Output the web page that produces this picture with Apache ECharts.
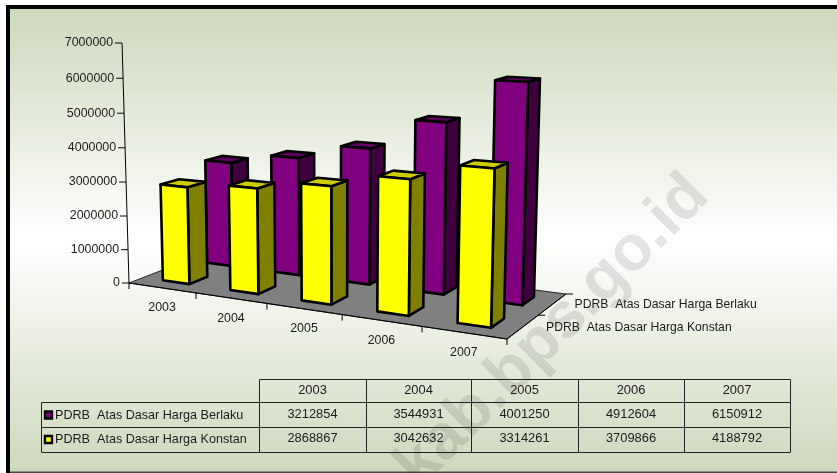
<!DOCTYPE html>
<html>
<head>
<meta charset="utf-8">
<style>html,body{margin:0;padding:0;background:#fff}#c{width:837px;height:473px}</style>
<script src="https://cdn.jsdelivr.net/npm/echarts@6/dist/echarts.min.js"></script>
</head>
<body>
<div id="c"></div>
<script>
var categories = ['2003', '2004', '2005', '2006', '2007'];
var seriesBerlaku = [3212854, 3544931, 4001250, 4912604, 6150912];
var seriesKonstan = [2868867, 3042632, 3314261, 3709866, 4188792];
var nameBerlaku = 'PDRB  Atas Dasar Harga Berlaku';
var nameKonstan = 'PDRB  Atas Dasar Harga Konstan';
var yTicks = [0, 1000000, 2000000, 3000000, 4000000, 5000000, 6000000, 7000000];
var watermark = 'kab.bps.go.id';

var FONT = '12.4px "Liberation Sans", Arial, sans-serif';
var NFONT = '12.2px "Liberation Sans", Arial, sans-serif';
var TFONT = '12.9px "Liberation Sans", Arial, sans-serif';
var LFONT = '12.6px "Liberation Sans", Arial, sans-serif';
var INK = '#1c1c1c';

// camera: floor corners and the vanishing point of the vertical edges
var P00 = [129, 283], P10 = [507, 339], P01 = [217, 249], P11 = [566, 294];
var VP = [337, 7472], TOP0 = 43;
var cam = (function () {
  var d1 = [P10[0] - P11[0], P10[1] - P11[1]], d2 = [P01[0] - P11[0], P01[1] - P11[1]];
  var s = [P00[0] - P10[0] - P01[0] + P11[0], P00[1] - P10[1] - P01[1] + P11[1]];
  var det = d1[0] * d2[1] - d2[0] * d1[1];
  var g = (s[0] * d2[1] - d2[0] * s[1]) / det, h = (d1[0] * s[1] - s[0] * d1[1]) / det;
  var k = (TOP0 - P00[1]) / (VP[1] - TOP0);
  return { g: g, h: h, k: k };
})();
function proj(u, w, v) {
  var den = cam.g * u + cam.h * w + cam.k * v + 1;
  function c(i) {
    return (P10[i] - P00[i] + cam.g * P10[i]) * u + (P01[i] - P00[i] + cam.h * P01[i]) * w + VP[i] * cam.k * v + P00[i];
  }
  return [c(0) / den, c(1) / den];
}
// reads the grid's own scales and turns them into normalised floor/height coordinates
function norm(params, api, cat, val) {
  var r = params.coordSys, p = api.coord([cat, val]);
  return [(p[0] - r.x) / r.width, (r.y + r.height - p[1]) / r.height];
}
function poly(pts, fill) {
  return { type: 'polygon', shape: { points: pts }, style: { fill: fill, stroke: '#000', lineWidth: 2.6, lineJoin: 'round' } };
}
function line(a, b, w) {
  return { type: 'line', shape: { x1: a[0], y1: a[1], x2: b[0], y2: b[1] }, style: { stroke: '#000', lineWidth: w || 1 } };
}
function txt(t, x, y, align, font) {
  return { type: 'text', style: { text: t, x: x, y: y, fill: INK, font: font || FONT, align: align || 'center', verticalAlign: 'middle' } };
}
var BAR_W = 0.4, W_HALF = 0.1;
function barRender(wc, front, top, side) {
  return function (params, api) {
    var n = norm(params, api, api.value(0), api.value(1));
    var hw = api.size([1, 0])[0] / params.coordSys.width * BAR_W / 2;
    var u0 = n[0] - hw, u1 = n[0] + hw, w0 = wc - W_HALF, w1 = wc + W_HALF, v = n[1];
    var f0 = proj(u0, w0, 0), f1 = proj(u1, w0, 0), f2 = proj(u1, w1, 0);
    var t0 = proj(u0, w0, v), t1 = proj(u1, w0, v), t2 = proj(u1, w1, v), t3 = proj(u0, w1, v);
    return { type: 'group', children: [
      poly([f1, f2, t2, t1], side),
      poly([t0, t1, t2, t3], top),
      poly([f0, f1, t1, t0], front)
    ] };
  };
}
function floorRender(params, api) {
  var kids = [{ type: 'polygon', shape: { points: [proj(0, 0, 0), proj(1, 0, 0), proj(1, 1, 0), proj(0, 1, 0)] }, style: { fill: '#808080', stroke: '#000', lineWidth: 0.8 } }];
  kids.push(line(proj(0, 0, 0), proj(1, 0, 0)), line(proj(1, 0, 0), proj(1, 1, 0)));
  var step = api.size([1, 0])[0] / params.coordSys.width;
  for (var i = 0; i <= categories.length; i++) {
    var b = proj(i * step, 0, 0);
    kids.push(line(b, [b[0], b[1] + 6]));
    if (i < categories.length) {
      var m = proj((i + 0.5) * step, 0, 0);
      kids.push(txt(categories[i], m[0], m[1] + 20));
    }
  }
  [0, 0.5, 1].forEach(function (w) {
    var e = proj(1, w, 0);
    if (w > 0) kids.push(line(e, [e[0] + 7, e[1]]));
  });
  var k = proj(1, 0.25, 0), b2 = proj(1, 0.75, 0);
  kids.push(txt(nameKonstan, k[0] + 23, k[1] + 1, 'left', NFONT));
  kids.push(txt(nameBerlaku, b2[0] + 22, b2[1] + 0, 'left', NFONT));
  return { type: 'group', children: kids };
}
function yAxisRender(params, api) {
  var v = norm(params, api, 0, api.value(1))[1];
  var p = proj(0, 0, v);
  var kids = [line([p[0] - 7, p[1]], p), txt(String(api.value(1)), p[0] - 9, p[1], 'right')];
  if (v > 0.999) kids.push(line(proj(0, 0, 0), p));
  return { type: 'group', children: kids };
}

// data table and backdrop
var tblX = [259, 366, 471, 578, 684, 790], tblY = [379, 402, 427, 452], tblLeft = 41;
var g = [];
g.push({ type: 'rect', z: 0, shape: { x: 6, y: 5, width: 831, height: 468 }, style: { fill: '#000' } });
g.push({ type: 'rect', z: 0, shape: { x: 10, y: 9, width: 827, height: 463 },
  style: { fill: new echarts.graphic.LinearGradient(0, 0, 0, 1, [
    { offset: 0, color: '#CDD9BC' }, { offset: 0.5, color: '#FFFFFF' }, { offset: 1, color: '#CDD9BC' }]) } });
g.push({ type: 'rect', z: 0, shape: { x: 10, y: 471.5, width: 827, height: 1.5 }, style: { fill: '#4a4a4a' } });
g.push({ type: 'text', z: 0, x: 676, y: 163, rotation: Math.PI / 4, originX: 0, originY: 0,
  style: { text: watermark, x: 0, y: 0, align: 'right', verticalAlign: 'alphabetic', font: 'bold 64px "Liberation Sans", Arial, sans-serif', fill: 'rgba(0,0,0,0.1)' } });
function tLine(x1, y1, x2, y2) {
  g.push({ type: 'line', z: 10, shape: { x1: x1 + 0.5, y1: y1 + 0.5, x2: x2 + 0.5, y2: y2 + 0.5 }, style: { stroke: '#222', lineWidth: 1 } });
}
function tText(t, x, y, align, font) {
  g.push({ type: 'text', z: 10, style: { text: t, x: x, y: y, align: align, verticalAlign: 'middle', font: font || TFONT, fill: INK } });
}
tLine(tblX[0], tblY[0], tblX[5], tblY[0]);
tLine(tblLeft, tblY[1], tblX[5], tblY[1]);
tLine(tblLeft, tblY[2], tblX[5], tblY[2]);
tLine(tblLeft, tblY[3], tblX[5], tblY[3]);
tLine(tblLeft, tblY[1], tblLeft, tblY[3]);
tblX.forEach(function (x) { tLine(x, tblY[0], x, tblY[3]); });
categories.forEach(function (c, i) {
  var cx = (tblX[i] + tblX[i + 1]) / 2;
  tText(c, cx, 390, 'center');
  tText(String(seriesBerlaku[i]), cx, 414, 'center');
  tText(String(seriesKonstan[i]), cx, 438, 'center');
});
tText(nameBerlaku, 55, 415.5, 'left', LFONT);
tText(nameKonstan, 55, 440, 'left', LFONT);
[[415, '#800080'], [439.5, '#FFFF00']].forEach(function (k) {
  g.push({ type: 'rect', z: 10, shape: { x: 45, y: k[0] - 3.5, width: 7, height: 7 }, style: { fill: k[1], stroke: '#000', lineWidth: 2.4 } });
});

var chart = echarts.init(document.getElementById('c'), null, { renderer: 'canvas', width: 837, height: 473 });
chart.setOption({
  animation: false,
  backgroundColor: '#fff',
  tooltip: { show: false },
  grid: { left: 0, right: 0, top: 0, bottom: 0, containLabel: false },
  xAxis: { type: 'category', data: categories, show: false },
  yAxis: { type: 'value', min: 0, max: 7000000, interval: 1000000, show: false },
  graphic: { elements: g },
  series: [
    { type: 'custom', silent: true, z: 3, renderItem: floorRender, data: [[0, 0]], clip: false },
    { type: 'custom', silent: true, z: 3, renderItem: yAxisRender, data: yTicks.map(function (v) { return [0, v]; }), clip: false },
    { type: 'custom', name: nameBerlaku, silent: true, z: 4, renderItem: barRender(0.75, '#800080', '#600060', '#400040'),
      data: seriesBerlaku.map(function (v, i) { return [i, v]; }), clip: false },
    { type: 'custom', name: nameKonstan, silent: true, z: 5, renderItem: barRender(0.25, '#FFFF00', '#CCCC00', '#808000'),
      data: seriesKonstan.map(function (v, i) { return [i, v]; }), clip: false }
  ]
});
</script>
</body>
</html>
